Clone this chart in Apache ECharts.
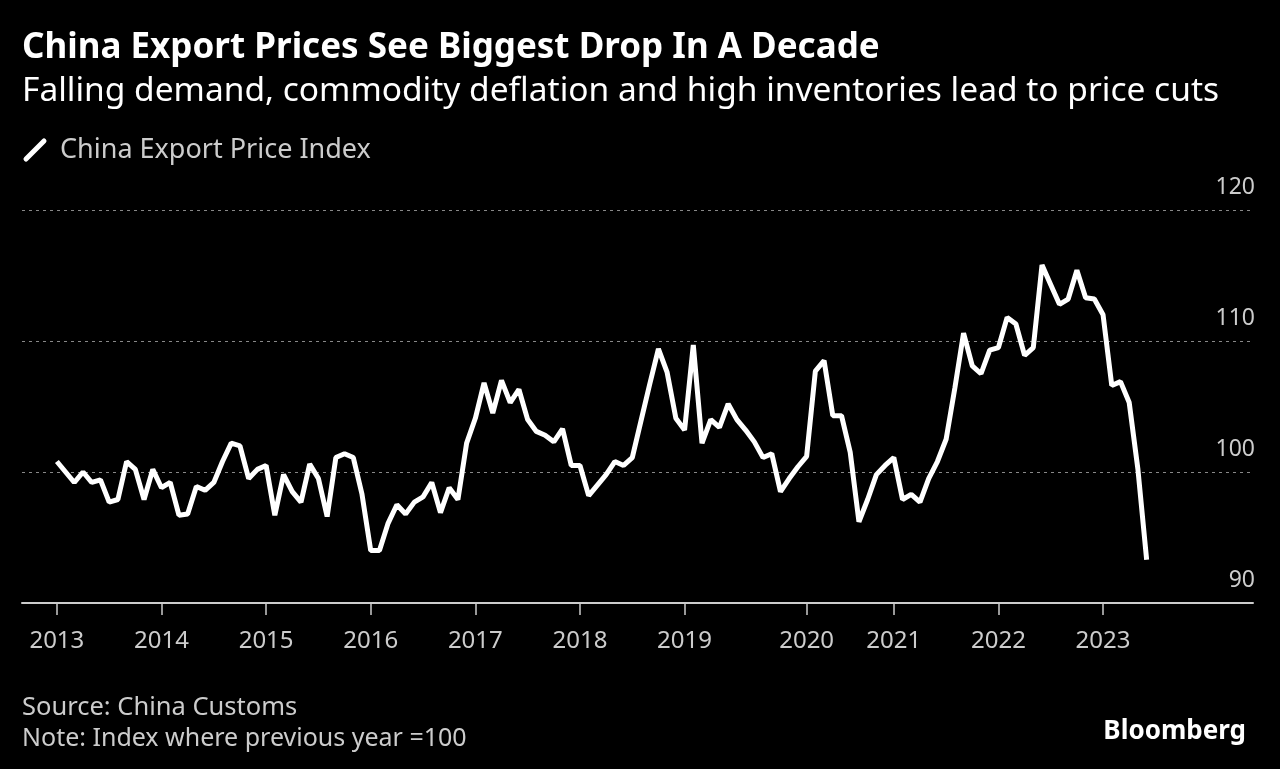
<!DOCTYPE html>
<html>
<head>
<meta charset="utf-8">
<script src="https://cdn.jsdelivr.net/npm/echarts@6/dist/echarts.min.js"></script>
<style>
    html, body { margin: 0; padding: 0; background: #000; }
    #chart { width: 1280px; height: 769px; }
</style>
</head>
<body>
<div id="chart"></div>
<script>
// 月度出口价格指数 (上年=100), 2013年1月起
const priceIndex = [
    100.8, 100.0, 99.2, 100.0, 99.2, 99.4, 97.7, 97.9, 100.8, 100.2,
    97.9, 100.2, 98.8, 99.2, 96.7, 96.8, 98.9, 98.6, 99.2, 100.8,
    102.2, 102.0, 99.5, 100.2, 100.5, 96.7, 99.8, 98.5, 97.7, 100.6,
    99.5, 96.6, 101.1, 101.4, 101.1, 98.3, 94.0, 94.0, 96.1, 97.5,
    96.8, 97.7, 98.1, 99.2, 96.9, 98.8, 97.9, 102.2, 104.1, 106.8,
    104.5, 107.0, 105.3, 106.3, 104.0, 103.1, 102.8, 102.3, 103.3, 100.5,
    100.5, 98.2, 99.0, 99.8, 100.8, 100.5, 101.1, 103.9, 106.7, 109.4,
    107.6, 104.1, 103.2, 109.7, 102.2, 104.0, 103.4, 105.2, 104.0, 103.2,
    102.3, 101.1, 101.4, 98.5, 99.5, 100.4, 101.2, 107.7, 108.5, 104.3,
    104.3, 101.5, 96.2, 97.9, 99.8, 100.5, 101.1, 97.9, 98.3, 97.7,
    99.5, 100.8, 102.5, 106.4, 110.6, 108.1, 107.5, 109.3, 109.5, 111.8,
    111.3, 108.9, 109.5, 115.8, 114.3, 112.8, 113.2, 115.4, 113.3, 113.2,
    112.0, 106.6, 106.9, 105.3, 100.2, 93.3
];
const yearLabels = ['2013', '2014', '2015', '2016', '2017', '2018', '2019', '2020', '2021', '2022', '2023'];
const yearIndex = [0, 12, 24, 36, 48, 60, 72, 86, 96, 108, 120];

let myChart = echarts.init(document.getElementById('chart'));

let option = {
    backgroundColor: '#000',
    animation: false,
    grid: {
        left: 22,
        right: 27,
        top: 210,
        bottom: 166
    },
    graphic: [
        { type: 'text', left: 22, top: 31, style: { text: 'China Export Prices See Biggest Drop In A Decade', fill: '#fff', font: 'bold 35px "Noto Sans"' } },
        { type: 'text', left: 22, top: 74, style: { text: 'Falling demand, commodity deflation and high inventories lead to price cuts', fill: '#fff', font: '33.5px "Noto Sans"' } },
        { type: 'line', shape: { x1: 26, y1: 159, x2: 44, y2: 141 }, style: { stroke: '#fff', lineWidth: 5, lineCap: 'round' } },
        { type: 'text', left: 60, top: 137, style: { text: 'China Export Price Index', fill: '#ccc', font: '27px "Noto Sans"' } },
        { type: 'text', left: 22, top: 695, style: { text: 'Source: China Customs', fill: '#ccc', font: '25.5px "Noto Sans"' } },
        { type: 'text', left: 22, top: 726, style: { text: 'Note: Index where previous year =100', fill: '#ccc', font: '25px "Noto Sans"' } },
        { type: 'text', right: 34, top: 719, style: { text: 'Bloomberg', fill: '#fff', font: 'bold 26px "Noto Sans"' } }
    ],
    xAxis: {
        type: 'value',
        min: -4,
        max: 137.2,
        axisLine: { show: true, lineStyle: { color: '#ccc', width: 2 } },
        axisTick: {
            show: true,
            customValues: yearIndex,
            length: 12,
            lineStyle: { color: '#ccc', width: 1.5 }
        },
        axisLabel: {
            customValues: yearIndex,
            color: '#ccc',
            fontSize: 24,
            fontFamily: 'Noto Sans',
            margin: 26,
            formatter: function (v) {
                return yearLabels[yearIndex.indexOf(v)];
            }
        },
        splitLine: { show: false }
    },
    yAxis: {
        type: 'value',
        position: 'right',
        min: 90,
        max: 120,
        interval: 10,
        axisLine: { show: false },
        axisTick: { show: false },
        axisLabel: {
            inside: true,
            color: '#ccc',
            fontSize: 23,
            fontFamily: 'Noto Sans',
            verticalAlign: 'bottom',
            align: 'right',
            margin: -2,
            padding: [0, 0, 11, 0]
        },
        splitLine: {
            show: true,
            lineStyle: { color: '#888', type: [3, 4], width: 1.2 }
        }
    },
    series: [
        {
            type: 'line',
            data: priceIndex.map((v, i) => [i, v]),
            symbol: 'none',
            lineStyle: { color: '#fff', width: 5 },
            itemStyle: { color: '#fff' }
        }
    ]
};

myChart.setOption(option);
</script>
</body>
</html>
